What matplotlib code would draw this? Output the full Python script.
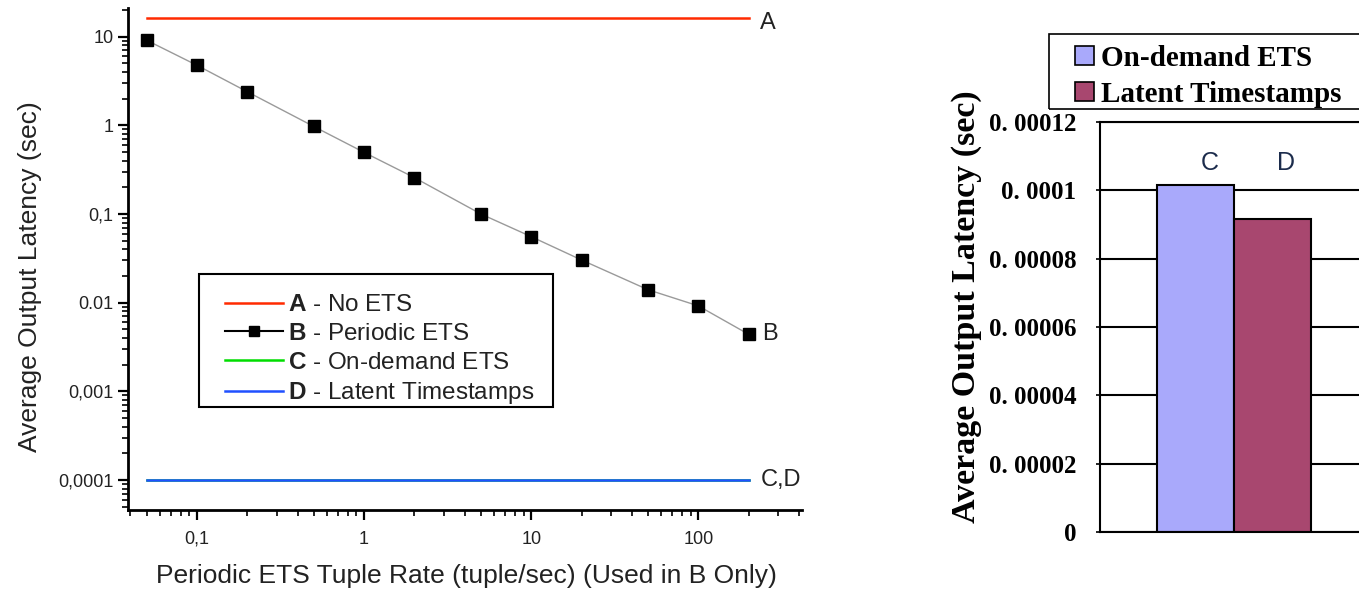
import matplotlib
matplotlib.use("Agg")
import matplotlib.pyplot as plt
from matplotlib.lines import Line2D
from matplotlib.patches import Patch, Rectangle
from matplotlib.ticker import NullFormatter

plt.rcParams['font.family'] = ['Liberation Sans', 'DejaVu Sans']
plt.rcParams['mathtext.fontset'] = 'custom'
plt.rcParams['mathtext.rm'] = 'Liberation Sans'
plt.rcParams['mathtext.bf'] = 'Liberation Sans:bold'

# left panel: latency vs periodic ETS rate
rates = [0.05, 0.1, 0.2, 0.5, 1, 2, 5, 10, 20, 50, 100, 200]
periodic_latency = [9.1, 4.75, 2.39, 0.97, 0.495, 0.257, 0.1, 0.0555, 0.0303, 0.014, 0.0092, 0.0044]
no_ets_latency = 16
on_demand_latency = 0.0001
latent_latency = 0.0001

y_ticks = [0.0001, 0.001, 0.01, 0.1, 1, 10]
y_tick_labels = ['0,0001', '0,001', '0.01', '0,1', '1', '10']
x_ticks = [0.1, 1, 10, 100]
x_tick_labels = ['0,1', '1', '10', '100']

# right panel: bar comparison
bar_names = ['On-demand ETS', 'Latent Timestamps']
bar_letters = ['C', 'D']
bar_values = [0.0001017, 0.0000915]
bar_colors = ['#a9a9fb', '#a8476f']
bar_ticks = [0, 0.00002, 0.00004, 0.00006, 0.00008, 0.0001, 0.00012]
bar_tick_labels = ['0', '0. 00002', '0. 00004', '0. 00006', '0. 00008', '0. 0001', '0. 00012']

W, H = 1359, 589
fig = plt.figure(figsize=(W / 100, H / 100), dpi=100)

def fig_box(x0, y0, x1, y1):
    # pixel box (top-left origin) -> figure fraction rect
    return [x0 / W, 1 - y1 / H, (x1 - x0) / W, (y1 - y0) / H]

txt = '#222222'

ax = fig.add_axes(fig_box(128, 8, 802, 510))
ax.set_xscale('log')
ax.set_yscale('log')
x0, x1 = rates[0], rates[-1]
ax.plot([x0, x1], [no_ets_latency] * 2, color='#ff2a00', lw=1.8)
ax.plot(rates, periodic_latency, color='#9a9a9a', lw=1.0, marker='s',
        markersize=8.5, markerfacecolor='black', markeredgecolor='black')
ax.plot([x0, x1], [on_demand_latency] * 2, color='#00dd00', lw=1.8)
ax.plot([x0, x1], [latent_latency] * 2, color='#2050ff', lw=1.8)
ax.set_xlim(0.0387, 417)
ax.set_ylim(4.6e-5, 21)

for s in ['top', 'right']:
    ax.spines[s].set_visible(False)
for s in ['left', 'bottom']:
    ax.spines[s].set_linewidth(2)

ax.set_xticks(x_ticks, labels=x_tick_labels)
ax.set_yticks(y_ticks, labels=y_tick_labels)
ax.xaxis.set_minor_formatter(NullFormatter())
ax.yaxis.set_minor_formatter(NullFormatter())
ax.tick_params(which='major', length=7, width=1.6, labelsize=13, colors='black', labelcolor=txt)
ax.tick_params(which='minor', length=4.5, width=1.2)
ax.tick_params(axis='x', which='major', pad=8)

ax.set_xlabel('Periodic ETS Tuple Rate (tuple/sec) (Used in B Only)', fontsize=19, color=txt, labelpad=14)
ax.set_ylabel('Average Output Latency (sec)', fontsize=19, color=txt)
ax.xaxis.set_label_coords(0.502, -0.108)
ax.yaxis.set_label_coords(-0.128, 0.464)

ax.annotate('A', xy=(x1, no_ets_latency), xytext=(8, -3), textcoords='offset points',
            va='center', fontsize=17, color=txt)
ax.annotate('B', xy=(x1, periodic_latency[-1]), xytext=(10, 0), textcoords='offset points',
            va='center', fontsize=17, color=txt)
ax.annotate('C,D', xy=(x1, latent_latency), xytext=(9, 0), textcoords='offset points',
            va='center', fontsize=17, color=txt)

handles = [
    Line2D([], [], color='#ff2a00', lw=1.8),
    Line2D([], [], color='black', lw=1.5, marker='s', markersize=7),
    Line2D([], [], color='#00dd00', lw=1.8),
    Line2D([], [], color='#2050ff', lw=1.8),
]
labels = [r'$\mathbf{A}$ - No ETS', r'$\mathbf{B}$ - Periodic ETS',
          r'$\mathbf{C}$ - On-demand ETS', r'$\mathbf{D}$ - Latent Timestamps']
leg = ax.legend(handles, labels, loc='upper left', bbox_to_anchor=(225 / W, 1 - 294 / H),
                bbox_transform=fig.transFigure, fontsize=17.5, frameon=False,
                handlelength=2.4, handletextpad=0.2, labelspacing=0.28,
                borderpad=0, borderaxespad=0)
for t in leg.get_texts():
    t.set_color(txt)
fig.patches.append(Rectangle((199 / W, 1 - 407 / H), (553 - 199) / W, (407 - 274) / H,
                             transform=fig.transFigure, fill=False, edgecolor='black', lw=1.5))

# right panel
serif = 'Liberation Serif'
ax2 = fig.add_axes(fig_box(1100, 122, 1368, 532))
pos = list(range(len(bar_values)))
ax2.bar(pos, bar_values, width=1.0, color=bar_colors, edgecolor='black', linewidth=1.5, zorder=2)
ax2.set_xlim(-1.25, 2.25)
ax2.set_ylim(0, 0.00012)
ax2.set_yticks(bar_ticks, labels=bar_tick_labels)
ax2.set_xticks([])
ax2.yaxis.grid(True, color='black', lw=1.5)
ax2.set_axisbelow(True)
for s in ax2.spines.values():
    s.set_linewidth(1.5)
ax2.tick_params(axis='y', length=3, width=1.2, pad=14)
for lab in ax2.get_yticklabels():
    lab.set_fontfamily(serif)
    lab.set_fontweight('bold')
    lab.set_fontsize(18)

for p, letter in zip(pos, bar_letters):
    ax2.text(p + 0.18, 0.000108, letter, ha='center', va='center', fontsize=18, color='#1c2c4c')

fig.text(966 / W, 1 - 307 / H, 'Average Output Latency (sec)', rotation=90, ha='center', va='center',
         fontsize=24.5, fontfamily=serif, fontweight='bold')

leg2 = fig.legend([Patch(facecolor=c, edgecolor='black', linewidth=1.2) for c in bar_colors], bar_names,
                  loc='upper left', bbox_to_anchor=(1075 / W, 1 - 45 / H), frameon=False,
                  handlelength=0.65, handleheight=0.65, handletextpad=0.25,
                  labelspacing=0.3, borderpad=0, borderaxespad=0,
                  prop={'family': serif, 'weight': 'bold', 'size': 21})
fig.patches.append(Rectangle((1049 / W, 1 - 109 / H), (1400 - 1049) / W, (109 - 34) / H,
                             transform=fig.transFigure, fill=False, edgecolor='black', lw=1.2))

fig.savefig('out.png', dpi=100)
